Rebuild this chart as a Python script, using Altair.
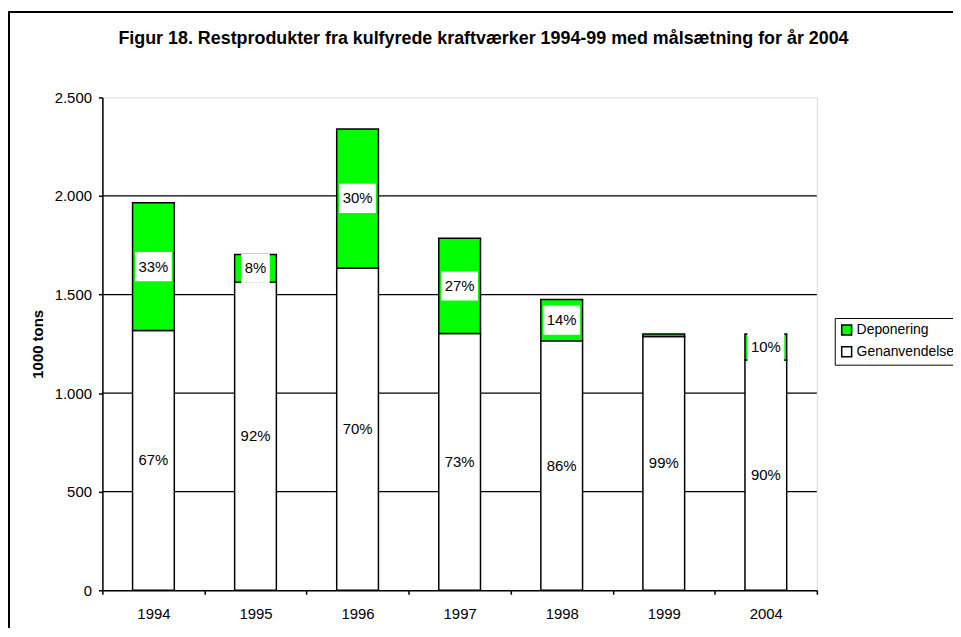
import altair as alt
import pandas as pd

# ---- data ----
years = ["1994", "1995", "1996", "1997", "1998", "1999", "2004"]
genanvendelse = [1318, 1563, 1635, 1302, 1265, 1287, 1168]
deponering = [648, 140, 705, 483, 210, 13, 132]
gen_pct = ["67%", "92%", "70%", "73%", "86%", "99%", "90%"]
dep_pct = ["33%", "8%", "30%", "27%", "14%", "", "10%"]
series = ["Deponering", "Genanvendelse"]
series_colors = ["#00FF00", "#FFFFFF"]
y_ticks = [0, 500, 1000, 1500, 2000, 2500]
grid_values = [500, 1000, 1500, 2000]

FONT = "Liberation Sans"
FS = 15

# ---- tables ----
bar_rows, lab_rows, box_rows = [], [], []
for yr, g, d, gp, dp in zip(years, genanvendelse, deponering, gen_pct, dep_pct):
    bar_rows.append({"year": yr, "serie": "Genanvendelse", "y0": 0, "y1": g})
    bar_rows.append({"year": yr, "serie": "Deponering", "y0": g, "y1": g + d})
    lab_rows.append({"year": yr, "yc": g / 2, "label": gp})
    if dp:
        c = g + d / 2
        lab_rows.append({"year": yr, "yc": c, "label": dp})
        ndig = len(dp) - 1
        w = ndig * 0.556 * FS + 0.889 * FS + 7
        box_rows.append({"year": yr, "b0": c - 74, "b1": c + 74, "w": w})

bars_df = pd.DataFrame(bar_rows)
labs_df = pd.DataFrame(lab_rows)
boxes_df = pd.DataFrame(box_rows)
grid_df = pd.DataFrame({"v": grid_values})

yscale = alt.Scale(domain=[0, 2500], nice=False, zero=True)
yaxis = alt.Axis(
    values=y_ticks, grid=False, title="1000 tons", titleFont=FONT,
    titleFontSize=15, titleFontWeight="bold", titleColor="black",
    titleAngle=270, titleX=-65, titleY=248, titleAlign="center",
    titleBaseline="middle",
    labelExpr="replace(format(datum.value, ',d'), ',', '.')",
    labelFont=FONT, labelFontSize=FS, labelColor="black",
    tickSize=4, labelPadding=7, domainColor="black", domainWidth=1.5,
    tickColor="black", tickWidth=1.5,
)
xenc = alt.X(
    "year:N",
    sort=years,
    scale=alt.Scale(domain=years, paddingInner=0, paddingOuter=0),
    axis=alt.Axis(
        title=None, tickBand="extent", labelAngle=0, labelFont=FONT,
        labelFontSize=FS, labelColor="black", tickSize=4, labelPadding=12,
        domainColor="black", domainWidth=1.5, tickColor="black", tickWidth=1.5,
        grid=False,
    ),
)

frame = alt.Chart(alt.Data(values=[{"a": 1}])).mark_rect(
    fillOpacity=0, stroke="black", strokeWidth=2
).encode(x=alt.value(-94), x2=alt.value(1100), y=alt.value(-86), y2=alt.value(800))

grid = alt.Chart(grid_df).mark_rule(color="black", strokeWidth=1.3).encode(
    y=alt.Y("v:Q", scale=yscale, axis=yaxis)
)

bars = alt.Chart(bars_df).mark_bar(size=42, stroke="black", strokeWidth=1.5).encode(
    x=xenc,
    y=alt.Y("y0:Q", scale=yscale, axis=yaxis),
    y2="y1:Q",
    color=alt.Color(
        "serie:N",
        scale=alt.Scale(domain=series, range=series_colors),
        legend=alt.Legend(
            title=None, orient="none", legendX=737, legendY=222,
            strokeColor="black", fillColor="white", padding=5,
            symbolType="square", symbolSize=100, symbolStrokeColor="black",
            symbolStrokeWidth=1.5, labelFont=FONT, labelFontSize=14,
            labelColor="black", labelOffset=3, rowPadding=6,
        ),
    ),
)

boxes = alt.Chart(boxes_df).mark_bar(fill="white").encode(
    x=alt.X("year:N", sort=years),
    y=alt.Y("b0:Q", scale=yscale),
    y2="b1:Q",
    size=alt.Size("w:Q", scale=None, legend=None),
)

texts = alt.Chart(labs_df).mark_text(font=FONT, fontSize=FS, color="black").encode(
    x=alt.X("year:N", sort=years),
    y=alt.Y("yc:Q", scale=yscale),
    text="label:N",
)

chart = alt.layer(frame, grid, bars, boxes, texts).properties(
    width=719,
    height=496,
    autosize=alt.AutoSizeParams(type="none"),
    padding={"left": 95, "top": 88, "right": 137, "bottom": 36},
    title=alt.TitleParams(
        text="Figur 18. Restprodukter fra kulfyrede kraftværker 1994-99 med målsætning for år 2004",
        font=FONT, fontSize=18, fontWeight="bold", color="black",
        anchor="middle", frame="group", offset=-51, baseline="alphabetic", dx=24,
    ),
).configure_view(stroke="#808080", strokeWidth=2).configure(background="white")

chart.save("out.html", embed_options={"renderer": "svg", "actions": False})
